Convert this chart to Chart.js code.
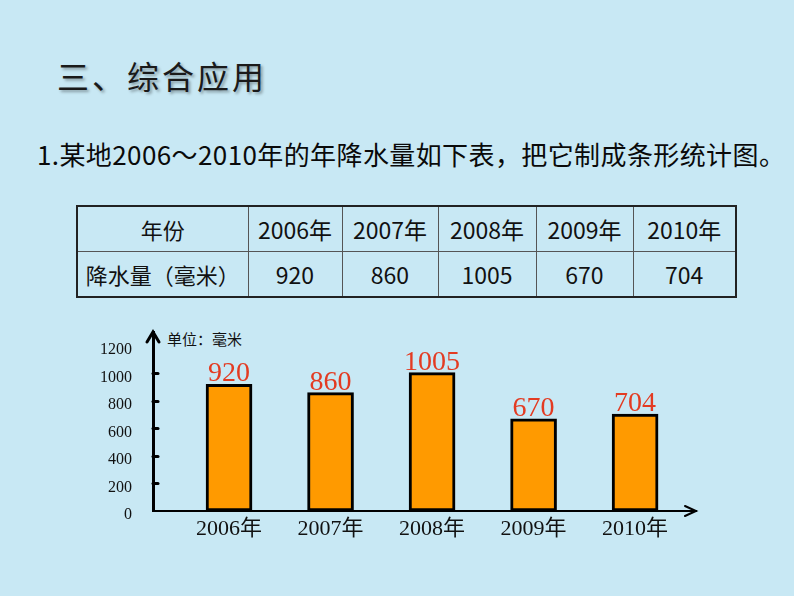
<!DOCTYPE html>
<html lang="zh">
<head>
<meta charset="utf-8">
<title>年降水量条形统计图</title>
<script src="https://cdn.jsdelivr.net/npm/chart.js@4.4.1/dist/chart.umd.min.js"></script>
<style>
  html, body { margin: 0; padding: 0; }
  body {
    width: 794px; height: 596px; position: relative; overflow: hidden;
    background: #c8e8f4; color: #111;
    font-family: "Noto Sans CJK SC", sans-serif;
  }
  .title {
    position: absolute; left: 57px; top: 59px; line-height: 1;
    font-size: 32px; letter-spacing: 3px; color: #1a1a1a;
    text-shadow: 2px 2px 3px rgba(0, 0, 0, 0.35);
  }
  .question {
    position: absolute; left: 37px; top: 141px; line-height: 1;
    font-size: 26px; white-space: nowrap; letter-spacing: 0.4px; color: #0a0a0a;
  }
  table {
    position: absolute; left: 76px; top: 205px; width: 659px;
    table-layout: fixed; border-collapse: collapse; border: 2px solid #222;
  }
  td {
    border: 1px solid #555; height: 44px; padding: 0; text-align: center;
    font-size: 23px; white-space: nowrap;
    font-family: "Liberation Sans Narrow", "Noto Sans CJK SC", sans-serif;
  }
  td.head { font-family: "Noto Sans CJK SC", sans-serif; font-size: 22px; }
  .unit {
    position: absolute; left: 167px; top: 331px; line-height: 1; font-size: 15px;
  }
  #chart { position: absolute; left: 0; top: 300px; }
</style>
</head>
<body>
<div class="title">三、综合应用</div>
<div class="question">1.某地2006～2010年的年降水量如下表，把它制成条形统计图。</div>
<table id="dataTable">
  <colgroup>
    <col style="width:171px"><col style="width:94px"><col style="width:96px">
    <col style="width:98px"><col style="width:97px"><col style="width:103px">
  </colgroup>
  <tr id="rowYear"><td class="head">年份</td></tr>
  <tr id="rowRain"><td class="head">降水量（毫米）</td></tr>
</table>
<div class="unit">单位：毫米</div>
<canvas id="chart" width="794" height="260"></canvas>
<script>
// 数据
const years = ['2006', '2007', '2008', '2009', '2010'];
const rainfall = [920, 860, 1005, 670, 704];
const yearLabels = years.map(y => y + '年');

// 表格
years.forEach((y, i) => {
    const td1 = document.createElement('td');
    td1.textContent = yearLabels[i];
    document.getElementById('rowYear').appendChild(td1);
    const td2 = document.createElement('td');
    td2.textContent = rainfall[i];
    document.getElementById('rowRain').appendChild(td2);
});

// 坐标轴箭头和刻度
const axisDecor = {
    id: 'axisDecor',
    afterDraw(chart) {
        const { ctx, chartArea } = chart;
        const yScale = chart.scales.y;
        ctx.save();
        ctx.strokeStyle = '#000';
        ctx.lineCap = 'round';

        // 纵轴箭头
        ctx.lineWidth = 3;
        ctx.beginPath();
        ctx.moveTo(chartArea.left - 6, chartArea.top + 10);
        ctx.lineTo(chartArea.left, chartArea.top);
        ctx.lineTo(chartArea.left + 6, chartArea.top + 10);
        ctx.stroke();

        // 纵轴刻度（向内）
        yScale.ticks.forEach(t => {
            if (t.value <= 0 || t.value >= 1200) return;
            const py = Math.round(yScale.getPixelForValue(t.value)) + 0.5;
            ctx.beginPath();
            ctx.moveTo(chartArea.left, py);
            ctx.lineTo(chartArea.left + 5, py);
            ctx.stroke();
        });

        // 横轴箭头
        ctx.lineWidth = 2;
        ctx.beginPath();
        ctx.moveTo(chartArea.right - 11, chartArea.bottom - 5);
        ctx.lineTo(chartArea.right, chartArea.bottom);
        ctx.lineTo(chartArea.right - 11, chartArea.bottom + 5);
        ctx.stroke();
        ctx.restore();
    }
};

// 柱顶数值
const barValues = {
    id: 'barValues',
    afterDatasetsDraw(chart) {
        const { ctx } = chart;
        const meta = chart.getDatasetMeta(0);
        ctx.save();
        ctx.fillStyle = '#e33b22';
        ctx.font = '28px "Liberation Serif", "DejaVu Serif", serif';
        ctx.textAlign = 'center';
        ctx.textBaseline = 'alphabetic';
        meta.data.forEach((bar, i) => {
            ctx.fillText(rainfall[i], bar.x, bar.y - 3);
        });
        ctx.restore();
    }
};

const ctx = document.getElementById('chart').getContext('2d');
const chart = new Chart(ctx, {
    type: 'bar',
    data: {
        datasets: [{
            label: '降水量',
            data: rainfall.map((v, i) => ({ x: i + 1, y: v })),
            backgroundColor: '#ff9a00',
            borderColor: '#000',
            borderWidth: 3,
            borderSkipped: false,
            barThickness: 46
        }]
    },
    options: {
        responsive: false,
        animation: false,
        layout: {
            padding: { top: 32, left: 0, right: 98, bottom: 0 }
        },
        plugins: {
            legend: { display: false },
            tooltip: { enabled: false }
        },
        scales: {
            x: {
                type: 'linear',
                min: 0.251,
                max: 5.6,
                offset: false,
                grid: { display: false, drawTicks: false, offset: false },
                border: { display: true, color: '#000', width: 2 },
                ticks: {
                    stepSize: 1,
                    includeBounds: false,
                    autoSkip: false,
                    maxRotation: 0,
                    padding: 5,
                    color: '#111',
                    font: { family: '"Liberation Serif", "Noto Sans CJK SC", serif', size: 22 },
                    callback: v => (Number.isInteger(v) && yearLabels[v - 1]) ? yearLabels[v - 1] : ''
                },
                afterFit(scale) { scale.height = 49; }
            },
            y: {
                min: 0,
                max: 1300,
                grid: { display: false, drawTicks: false },
                border: { display: true, color: '#000', width: 3 },
                ticks: {
                    stepSize: 200,
                    includeBounds: false,
                    padding: 21,
                    labelOffset: 4,
                    color: '#111',
                    font: { family: '"Liberation Serif", "DejaVu Serif", serif', size: 16 },
                    callback: v => String(v)
                },
                afterFit(scale) { scale.width = 153; }
            }
        }
    },
    plugins: [axisDecor, barValues]
});
</script>
</body>
</html>
